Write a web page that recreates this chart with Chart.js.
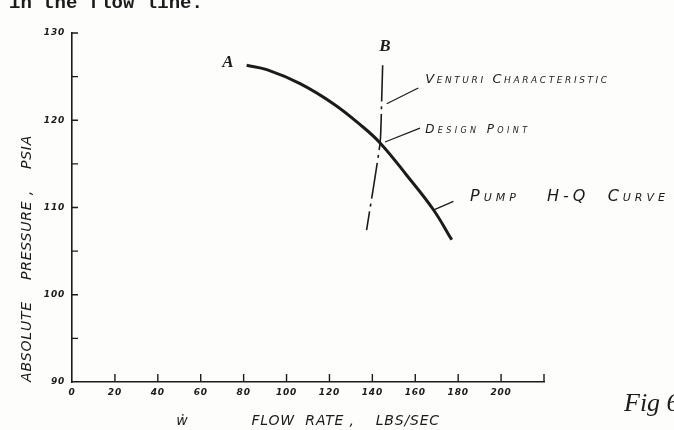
<!DOCTYPE html>
<html>
<head>
<meta charset="utf-8">
<script src="https://cdn.jsdelivr.net/npm/chart.js@4.4.1/dist/chart.umd.min.js"></script>
<style>
    html, body { margin: 0; padding: 0; background: #fdfdfc; }
    #wrap { width: 674px; height: 430px; position: relative; }
</style>
</head>
<body>
<div id="wrap"><canvas id="pumpChart"></canvas></div>
<script>
// Pump H-Q curve
const pumpFlow = [81.4, 90.8, 106.3, 121.8, 134.3, 143.6, 156.0, 168.3, 177.0];
const pumpPressure = [126.3, 125.8, 124.2, 121.9, 119.5, 117.4, 113.7, 109.8, 106.3];

// Venturi characteristic line
const venturiFlow = [144.8, 144.3, 143.6, 137.3];
const venturiPressure = [126.3, 122.0, 117.4, 107.4];

// Axis ticks
const flowTicks = [0, 20, 40, 60, 80, 100, 120, 140, 160, 180, 200, 220];
const pressureTicks = [90, 95, 100, 105, 110, 115, 120, 125, 130];
const pressureLabels = ['90', '', '100', '', '110', '', '120', '', '130'];

const INK = '#1b1b1b';
const HAND = "'DejaVu Sans', sans-serif";

function toPoints(xs, ys) {
    return xs.map((x, i) => ({ x: x, y: ys[i] }));
}

// Hand-lettered notes, placed in data units
const notes = {
    labels: [
        { text: 'A', flow: 72.7, psia: 126.6, font: "italic bold 17px 'Liberation Serif'", align: 'center', spacing: '0px' },
        { text: 'B', flow: 145.9, psia: 128.4, font: "italic bold 17px 'Liberation Serif'", align: 'center', spacing: '0px' },
        { text: 'Venturi Characteristic', flow: 164.6, psia: 124.6, font: 'italic small-caps 13px ' + HAND, align: 'left', spacing: '2.6px' },
        { text: 'Design Point', flow: 164.6, psia: 118.9, font: 'italic small-caps 12px ' + HAND, align: 'left', spacing: '3.4px' },
        { text: 'Pump   H-Q  Curve', flow: 185.5, psia: 111.2, font: 'italic small-caps 16px ' + HAND, align: 'left', spacing: '4px' }
    ],
    leaders: [
        [146.7, 121.9, 161.4, 123.7],
        [145.9, 117.5, 162.2, 119.1],
        [168.4, 109.7, 177.8, 110.7]
    ]
};

const sheetPlugin = {
    id: 'sheet',
    beforeDraw(chart) {
        const ctx = chart.ctx;
        ctx.save();
        ctx.fillStyle = '#fdfdfc';
        ctx.fillRect(0, 0, chart.width, chart.height);
        ctx.restore();
        ctx.letterSpacing = '0.8px';
    },
    afterDraw(chart) {
        const ctx = chart.ctx;
        const xs = chart.scales.x;
        const ys = chart.scales.y;
        ctx.save();
        ctx.strokeStyle = INK;
        ctx.fillStyle = INK;

        // inward tick marks
        ctx.lineWidth = 1.4;
        ctx.beginPath();
        pressureTicks.forEach(v => {
            if (v === ys.min) return;
            const py = ys.getPixelForValue(v);
            ctx.moveTo(xs.left, py);
            ctx.lineTo(xs.left + 6, py);
        });
        flowTicks.forEach(v => {
            if (v === xs.min) return;
            const px = xs.getPixelForValue(v);
            ctx.moveTo(px, ys.bottom);
            ctx.lineTo(px, ys.bottom - 8);
        });
        ctx.stroke();

        // leader lines
        ctx.lineWidth = 1.2;
        notes.leaders.forEach(l => {
            ctx.beginPath();
            ctx.moveTo(xs.getPixelForValue(l[0]), ys.getPixelForValue(l[1]));
            ctx.lineTo(xs.getPixelForValue(l[2]), ys.getPixelForValue(l[3]));
            ctx.stroke();
        });

        // labels
        ctx.textBaseline = 'middle';
        notes.labels.forEach(n => {
            ctx.font = n.font;
            ctx.letterSpacing = n.spacing;
            ctx.textAlign = n.align;
            ctx.fillText(n.text, xs.getPixelForValue(n.flow), ys.getPixelForValue(n.psia));
        });

        // figure tag and clipped heading from the scanned page
        ctx.letterSpacing = '0px';
        ctx.textAlign = 'left';
        ctx.font = "italic 26px 'Liberation Serif'";
        ctx.fillText('Fig 6', 624, 404);
        ctx.font = "bold 19px 'Liberation Mono'";
        ctx.textBaseline = 'alphabetic';
        ctx.fillText('in the flow line.', 9, 8);
        ctx.restore();
    }
};

document.addEventListener('DOMContentLoaded', function() {
    const ctx = document.getElementById('pumpChart').getContext('2d');

    new Chart(ctx, {
        type: 'scatter',
        data: {
            datasets: [{
                label: 'Pump H-Q Curve',
                data: toPoints(pumpFlow, pumpPressure),
                showLine: true,
                borderColor: INK,
                borderWidth: 3,
                tension: 0.4,
                pointRadius: 0
            }, {
                label: 'Venturi Characteristic',
                data: toPoints(venturiFlow, venturiPressure),
                showLine: true,
                borderColor: INK,
                borderWidth: 1.6,
                borderDash: [36, 5, 3, 5],
                tension: 0.2,
                pointRadius: 0
            }]
        },
        options: {
            responsive: true,
            maintainAspectRatio: false,
            animation: false,
            layout: {
                padding: { top: 33, right: 130, left: 0, bottom: 0 }
            },
            plugins: {
                legend: { display: false },
                tooltip: { enabled: false }
            },
            scales: {
                x: {
                    type: 'linear',
                    min: 0,
                    max: 220,
                    afterFit: s => { s.height = 48; },
                    afterBuildTicks: s => { s.ticks = flowTicks.map(v => ({ value: v })); },
                    grid: { display: false, drawTicks: false },
                    border: { display: true, color: INK, width: 1.6 },
                    ticks: {
                        color: INK,
                        padding: 5,
                        maxRotation: 0,
                        font: { family: HAND, size: 9, style: 'italic', weight: 'bold' },
                        callback: v => (v === 220 ? '' : v)
                    },
                    title: {
                        display: true,
                        text: 'ẇ            FLOW  RATE ,    LBS/SEC',
                        color: INK,
                        padding: { top: 13, bottom: 0 },
                        font: { family: HAND, size: 14, style: 'italic' }
                    }
                },
                y: {
                    type: 'linear',
                    min: 90,
                    max: 130,
                    afterFit: s => { s.width = 72; },
                    afterBuildTicks: s => { s.ticks = pressureTicks.map(v => ({ value: v })); },
                    grid: { display: false, drawTicks: false },
                    border: { display: true, color: INK, width: 1.6 },
                    ticks: {
                        color: INK,
                        padding: 7,
                        font: { family: HAND, size: 9, style: 'italic', weight: 'bold' },
                        callback: v => pressureLabels[pressureTicks.indexOf(v)]
                    },
                    title: {
                        display: true,
                        align: 'start',
                        text: 'ABSOLUTE    PRESSURE ,    PSIA',
                        color: INK,
                        padding: { top: 19, bottom: 0 },
                        font: { family: HAND, size: 14, style: 'italic' }
                    }
                }
            }
        },
        plugins: [sheetPlugin]
    });
});
</script>
</body>
</html>
